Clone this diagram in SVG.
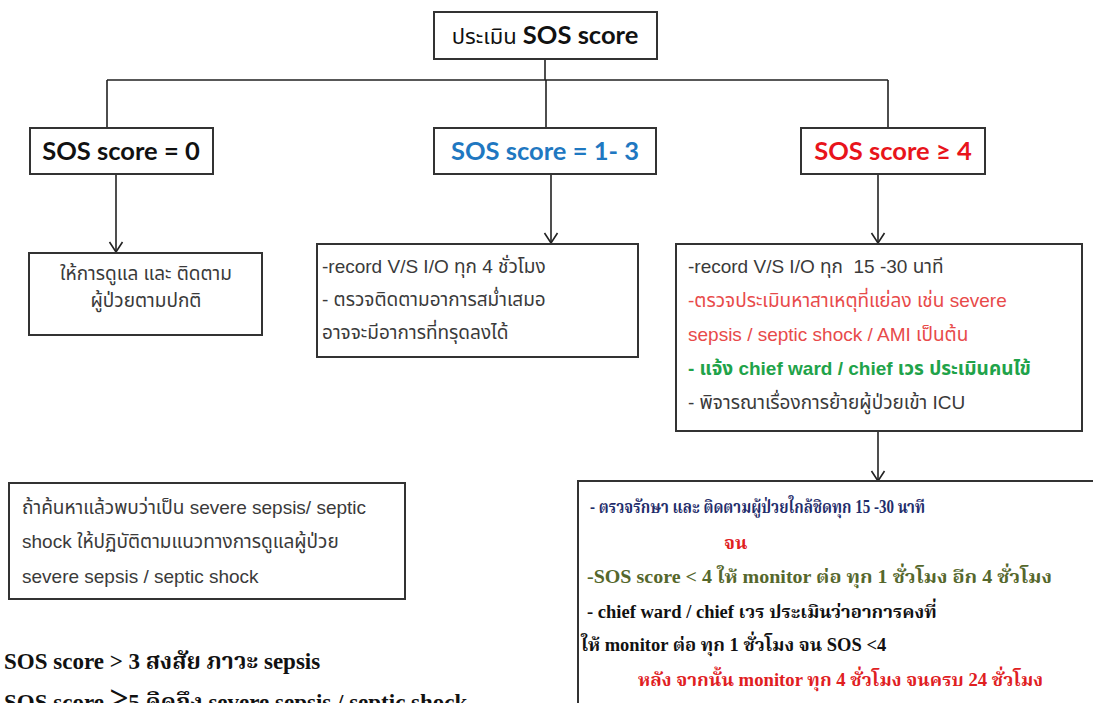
<svg xmlns="http://www.w3.org/2000/svg" width="1093" height="703" viewBox="0 0 1093 703">
<defs>
<marker id="arr" markerUnits="userSpaceOnUse" markerWidth="16" markerHeight="16" viewBox="-12 -8 14 16" refX="0" refY="0" orient="auto">
<path d="M-10,-6.5 L0,0 L-10,6.5" fill="none" stroke="#222" stroke-width="1.6"/>
</marker>
<style>
.box{fill:#fff;stroke:#333;stroke-width:2}
.con{fill:none;stroke:#222;stroke-width:1.6}
.lbl{font-family:Lato,"Liberation Sans","Noto Sans Thai","Noto Sans",sans-serif;font-weight:bold;font-size:25.5px;text-anchor:middle}
.thin{font-family:"Liberation Sans","Noto Sans Thai","Noto Sans",sans-serif;font-size:19px}
.gray{fill:#3a3a3a}
.red{fill:#e84a4a}
.green{fill:#1fa34a;font-weight:bold}
.serif{font-family:"Liberation Serif","Noto Serif Thai","Noto Sans Thai",serif;font-weight:bold;font-size:18.5px}
.big{font-family:"Liberation Serif","Noto Serif Thai","Noto Sans Thai",serif;font-weight:bold;font-size:23px;fill:#111}
</style>
</defs>
<rect width="1093" height="703" fill="#fff"/>

<g id="connectors">
<path class="con" d="M545,59 V80 M107,80 H888 M107,80 V128 M546,80 V128 M888,80 V128"/>
<path class="con" d="M116,174 V252" marker-end="url(#arr)"/>
<path class="con" d="M551,174 V243" marker-end="url(#arr)"/>
<path class="con" d="M878,174 V243" marker-end="url(#arr)"/>
<path class="con" d="M878,431 V481" marker-end="url(#arr)"/>
</g>

<g id="n-top">
<rect class="box" x="434" y="12" width="223" height="47"/>
<text class="lbl" x="545" y="44" fill="#111" font-size="26"><tspan font-weight="normal" font-family="'Noto Sans Thai','Liberation Sans',sans-serif" font-size="22">ประเมิน</tspan> SOS score</text>
</g>

<g id="n-sos0">
<rect class="box" x="30" y="128" width="183" height="46"/>
<text class="lbl" x="121" y="160" fill="#111">SOS score = 0</text>
</g>

<g id="n-sos13">
<rect class="box" x="434" y="128" width="222" height="46"/>
<text class="lbl" x="545" y="160" fill="#1f78c1">SOS score = 1- 3</text>
</g>

<g id="n-sos4">
<rect class="box" x="801" y="128" width="184" height="46"/>
<text class="lbl" x="893" y="160" fill="#e8141b">SOS score ≥ 4</text>
</g>

<g id="n-care">
<rect class="box" x="29" y="253" width="233" height="82"/>
<text class="thin gray" x="146" y="280" text-anchor="middle" font-size="21.5">ให้การดูแล และ ติดตาม</text>
<text class="thin gray" x="146" y="307" text-anchor="middle" font-size="21.5">ผู้ป่วยตามปกติ</text>
</g>

<g id="n-mid">
<rect class="box" x="317" y="244" width="321" height="113"/>
<text class="thin gray" x="322" y="273">-record V/S I/O ทุก 4 ชั่วโมง</text>
<text class="thin gray" x="322" y="306">- ตรวจติดตามอาการสม่ำเสมอ</text>
<text class="thin gray" x="322" y="339">อาจจะมีอาการที่ทรุดลงได้</text>
</g>

<g id="n-right">
<rect class="box" x="676" y="244" width="406" height="187"/>
<text class="thin gray" x="688" y="273" xml:space="preserve">-record V/S I/O ทุก  15 -30 นาที</text>
<text class="thin red" x="688" y="307">-ตรวจประเมินหาสาเหตุที่แย่ลง เช่น severe</text>
<text class="thin red" x="688" y="341">sepsis / septic shock / AMI เป็นต้น</text>
<text class="thin green" x="688" y="375">- แจ้ง chief ward / chief เวร ประเมินคนไข้</text>
<text class="thin gray" x="688" y="409">- พิจารณาเรื่องการย้ายผู้ป่วยเข้า ICU</text>
</g>

<g id="n-sepsis">
<rect class="box" x="9" y="483" width="396" height="116"/>
<text class="thin gray" x="22" y="514">ถ้าค้นหาแล้วพบว่าเป็น severe sepsis/ septic</text>
<text class="thin gray" x="22" y="548">shock ให้ปฏิบัติตามแนวทางการดูแลผู้ป่วย</text>
<text class="thin gray" x="22" y="583">severe sepsis / septic shock</text>
</g>

<g id="n-bottom">
<rect class="box" x="578" y="481" width="530" height="240"/>
<text class="serif" x="590" y="513" fill="#1f2d6b" textLength="335" lengthAdjust="spacingAndGlyphs">- ตรวจรักษา และ ติดตามผู้ป่วยใกล้ชิดทุก 15 -30 นาที</text>
<text class="serif" x="724" y="549" fill="#e0201f">จน</text>
<text class="serif" x="587" y="583" fill="#55672c" textLength="465" lengthAdjust="spacingAndGlyphs">-SOS score &lt; 4 ให้ monitor ต่อ ทุก 1 ชั่วโมง อีก 4 ชั่วโมง</text>
<text class="serif" x="587" y="618" fill="#111">- chief ward / chief เวร ประเมินว่าอาการคงที่</text>
<text class="serif" x="581" y="651" fill="#111">ให้ monitor ต่อ ทุก 1 ชั่วโมง จน SOS &lt;4</text>
<text class="serif" x="638" y="686" fill="#e0201f" textLength="405" lengthAdjust="spacingAndGlyphs">หลัง จากนั้น monitor ทุก 4 ชั่วโมง จนครบ 24 ชั่วโมง</text>
</g>

<g id="notes">
<text class="big" x="4" y="669">SOS score &gt; 3 สงสัย ภาวะ sepsis</text>
<text class="big" x="4" y="710">SOS score <tspan font-size="34">≥</tspan>5 คิดถึง severe sepsis / septic shock</text>
</g>
</svg>
